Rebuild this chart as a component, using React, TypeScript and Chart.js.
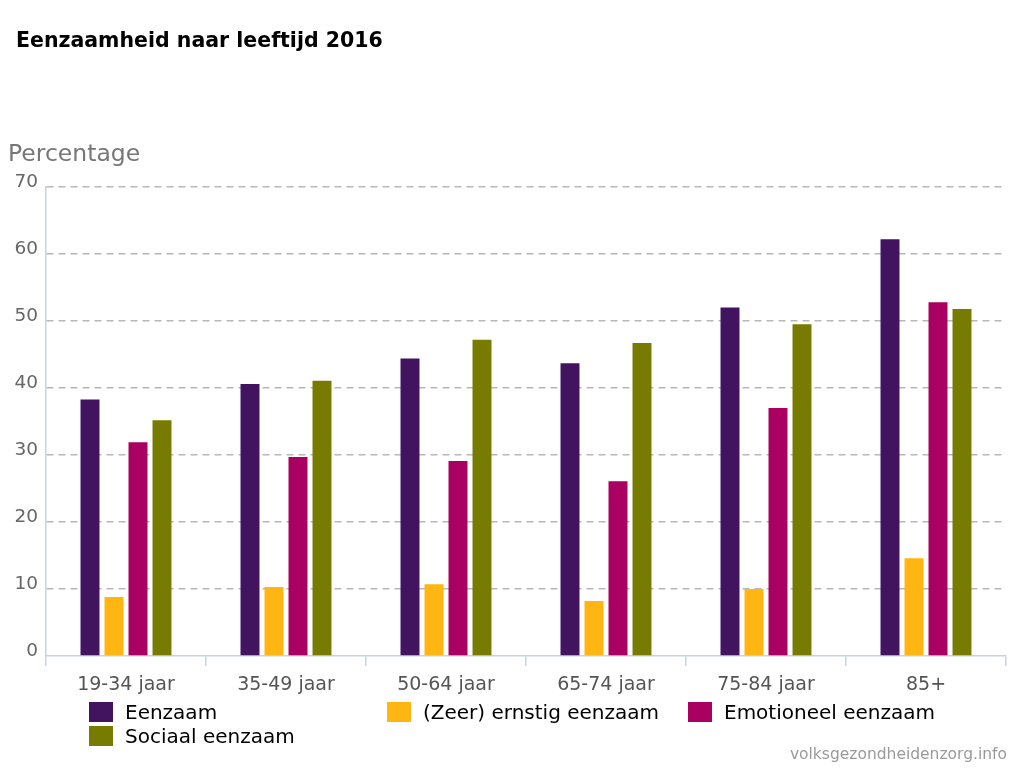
import React, { useEffect, useRef } from "react";
import { Chart, registerables } from "chart.js";

Chart.register(...registerables);

const categories = ["19-34 jaar", "35-49 jaar", "50-64 jaar", "65-74 jaar", "75-84 jaar", "85+"];
const eenzaam = [38.3, 40.6, 44.4, 43.7, 52.0, 62.2];
const zeerErnstig = [8.8, 10.3, 10.7, 8.2, 10.0, 14.6];
const emotioneel = [31.9, 29.7, 29.1, 26.1, 37.0, 52.8];
const sociaal = [35.2, 41.1, 47.2, 46.7, 49.5, 51.8];
const seriesNames = ["Eenzaam", "(Zeer) ernstig eenzaam", "Emotioneel eenzaam", "Sociaal eenzaam"];
const seriesColors = ["#42145f", "#ffb612", "#a90061", "#777c00"];
const yMin = 0;
const yMax = 70;
const yStep = 10;

const titleText = "Eenzaamheid naar leeftijd 2016";
const yAxisTitle = "Percentage";
const sourceText = "volksgezondheidenzorg.info";

const FONT = "'DejaVu Sans', Verdana, sans-serif";
const AXIS_BLUE = "#c5d3e2";

export default function App() {
  const canvasRef = useRef<HTMLCanvasElement | null>(null);

  useEffect(() => {
    const canvas = canvasRef.current;
    if (!canvas) return;
    const seriesData = [eenzaam, zeerErnstig, emotioneel, sociaal];
    const chart = new Chart(canvas, {
      type: "bar",
      data: {
        labels: categories,
        datasets: seriesData.map((d, i) => ({
          label: seriesNames[i],
          data: d,
          backgroundColor: seriesColors[i],
          borderWidth: 0,
          barPercentage: 0.79,
          categoryPercentage: 0.6,
        })),
      },
      options: {
        responsive: false,
        animation: false,
        events: [],
        layout: { padding: { left: 0, right: 18, top: 187, bottom: 72 } },
        plugins: {
          legend: { display: false },
          title: { display: false },
          tooltip: { enabled: false },
        },
        scales: {
          x: {
            afterFit: (scale: any) => {
              scale.height = 40;
            },
            grid: {
              display: true,
              drawOnChartArea: false,
              drawTicks: true,
              offset: true,
              tickLength: 10,
              color: AXIS_BLUE,
              lineWidth: 1.5,
            },
            border: { display: true, color: AXIS_BLUE, width: 1.5 },
            ticks: {
              color: "#555555",
              font: { family: FONT, size: 19 },
              padding: 8,
              maxRotation: 0,
            },
          },
          y: {
            min: yMin,
            max: yMax,
            afterFit: (scale: any) => {
              scale.width = 46;
            },
            grid: {
              drawTicks: false,
              color: (ctx: any) => (ctx.tick && ctx.tick.value === 0 ? "rgba(0,0,0,0)" : "#b8b8b8"),
              lineWidth: 1.5,
            },
            border: { display: true, color: AXIS_BLUE, width: 1.5, dash: [7, 5] },
            ticks: {
              stepSize: yStep,
              color: "#666666",
              font: { family: FONT, size: 18.5 },
              padding: 8,
              labelOffset: -5,
            },
          },
        },
      },
    });
    return () => chart.destroy();
  }, []);

  const legendRows = [
    [0, 1, 2],
    [3],
  ];
  const colLeft = [89, 387, 688];
  const rowTop = [702, 726];

  return (
    <div
      style={{
        position: "absolute",
        left: 0,
        top: 0,
        width: 1024,
        height: 768,
        background: "#ffffff",
        overflow: "hidden",
        fontFamily: FONT,
      }}
    >
      <canvas
        ref={canvasRef}
        width={1024}
        height={768}
        style={{ position: "absolute", left: 0, top: 0, width: 1024, height: 768 }}
      />
      <div
        style={{
          position: "absolute",
          left: 16,
          top: 27,
          fontSize: 20.5,
          fontWeight: "bold",
          color: "#000",
          lineHeight: "26px",
          whiteSpace: "nowrap",
        }}
      >
        {titleText}
      </div>
      <div
        style={{
          position: "absolute",
          left: 8,
          top: 139,
          fontSize: 23.5,
          color: "#777",
          lineHeight: "28px",
          whiteSpace: "nowrap",
        }}
      >
        {yAxisTitle}
      </div>
      {legendRows.map((row, r) =>
        row.map((si, c) => (
          <div
            key={si}
            style={{
              position: "absolute",
              left: colLeft[c],
              top: rowTop[r],
              height: 20,
              display: "flex",
              alignItems: "center",
              whiteSpace: "nowrap",
            }}
          >
            <div style={{ width: 24, height: 20, background: seriesColors[si], marginRight: 12 }} />
            <span style={{ fontSize: 20, color: "#000", lineHeight: "20px" }}>{seriesNames[si]}</span>
          </div>
        ))
      )}
      <div
        style={{
          position: "absolute",
          right: 17,
          top: 744,
          fontSize: 15.5,
          color: "#9a9a9a",
          lineHeight: "20px",
          whiteSpace: "nowrap",
        }}
      >
        {sourceText}
      </div>
    </div>
  );
}
